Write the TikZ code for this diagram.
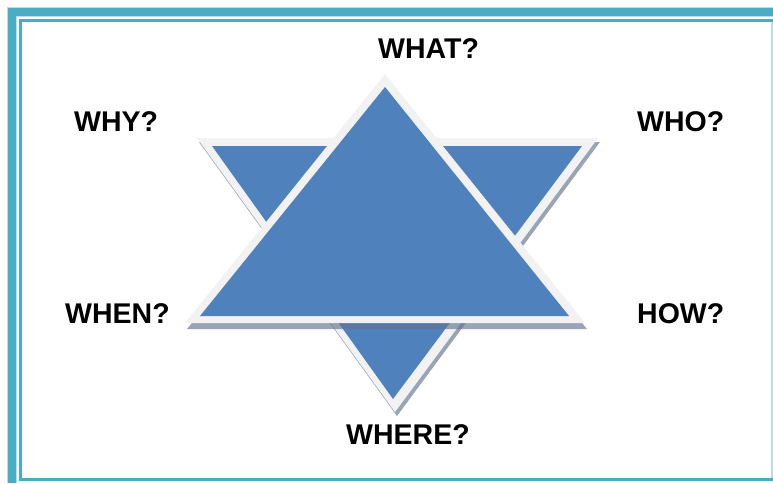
\documentclass[tikz,border=0pt]{standalone}
\usepackage{fontspec}
\setmainfont{Liberation Sans}
\definecolor{frameblue}{RGB}{75,172,198}
\definecolor{framelight}{RGB}{183,221,232}
\definecolor{starblue}{RGB}{79,129,189}
\definecolor{starrim}{RGB}{242,242,242}
\definecolor{shadowc}{RGB}{100,115,145}
\tikzset{
  lbl/.style={anchor=base west, inner sep=0pt, font=\fontsize{28.5}{34}\selectfont\bfseries},
  rim/.style={fill=starrim},
  core/.style={fill=starblue},
  shade/.style={fill=shadowc, fill opacity=0.65}
}
\begin{document}
\begin{tikzpicture}[x=1pt,y=-1pt]
\useasboundingbox (0,0) rectangle (773,483);
% frame
\fill[framelight] (7,7) rectangle (773,17);
\fill[framelight] (7,7) rectangle (17,483);
\fill[frameblue] (8,8) rectangle (773,16);
\fill[frameblue] (8,8) rectangle (16,483);
\fill[frameblue] (19,19) rectangle (773,22);
\fill[frameblue] (19,19) rectangle (22,481);
\fill[frameblue] (19,478) rectangle (773,481);
\fill[framelight] (771,22) rectangle (773,478);
% down triangle
\coordinate (d1) at (197,138); \coordinate (d2) at (598,138); \coordinate (d3) at (395,412);
\coordinate (e1) at (212,146); \coordinate (e2) at (582,146); \coordinate (e3) at (393,399);
\fill[shade] (199,142) -- (600,142) -- (397,416) -- cycle;
\fill[rim] (d1) -- (d2) -- (d3) -- cycle;
\fill[core] (e1) -- (e2) -- (e3) -- cycle;
% up triangle
\coordinate (u1) at (385,74); \coordinate (u2) at (185,323); \coordinate (u3) at (585,323);
\coordinate (v1) at (385,87); \coordinate (v2) at (200,316); \coordinate (v3) at (569,316);
\fill[shade] (387,80) -- (187,329) -- (587,329) -- cycle;
\fill[rim] (u1) -- (u2) -- (u3) -- cycle;
\fill[core] (v1) -- (v2) -- (v3) -- cycle;
% labels
\node[lbl] (what) at (378,58) {WHAT?};
\node[lbl] (why) at (74,131) {WHY?};
\node[lbl] (who) at (637,131) {WHO?};
\node[lbl] (when) at (65,323) {WHEN?};
\node[lbl] (how) at (637,323) {HOW?};
\node[lbl] (where) at (346,444) {WHERE?};
\end{tikzpicture}
\end{document}
